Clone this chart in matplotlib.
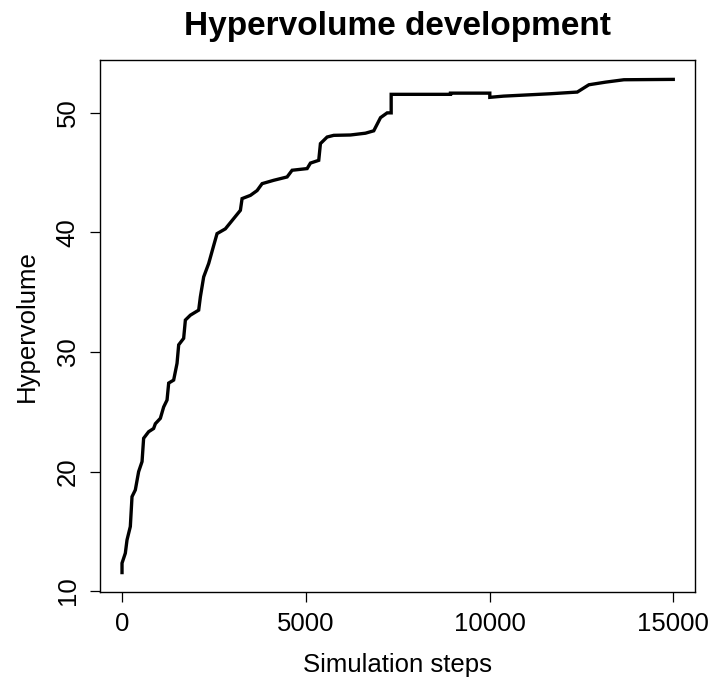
import matplotlib
matplotlib.use("Agg")
import matplotlib.pyplot as plt

plt.rcParams['font.family'] = ['Liberation Sans', 'DejaVu Sans']

# hypervolume of the best front after each simulation step
steps = [0, 0, 90, 136, 226, 272, 362, 452, 545, 588, 724, 860, 907, 1043,
         1133, 1225, 1270, 1405, 1497, 1542, 1677, 1724, 1860, 2086, 2132,
         2222, 2358, 2494, 2586, 2812, 3039, 3221, 3267, 3494, 3675, 3812,
         4127, 4492, 4628, 5037, 5127, 5353, 5399, 5581, 5761, 6216, 6624,
         6850, 7034, 7079, 7215, 7324, 7324, 8938, 8938, 10008, 10008,
         10382, 11661, 12388, 12704, 13158, 13657, 15000]
hypervolume = [11.55, 12.34, 13.17, 14.28, 15.4, 17.9, 18.46, 19.99, 20.83,
               22.78, 23.33, 23.6, 24.0, 24.45, 25.4, 25.98, 27.4, 27.65,
               29.05, 30.6, 31.14, 32.67, 33.08, 33.5, 34.61, 36.28, 37.4,
               38.9, 39.9, 40.3, 41.16, 41.85, 42.83, 43.1, 43.5, 44.08,
               44.36, 44.64, 45.2, 45.34, 45.8, 46.03, 47.43, 47.98, 48.12,
               48.15, 48.3, 48.5, 49.6, 49.7, 50.0, 50.0, 51.55, 51.55, 51.65,
               51.65, 51.3, 51.4, 51.6, 51.74, 52.35, 52.57, 52.77, 52.8]

xticks = [0, 5000, 10000, 15000]
yticks = [10, 20, 30, 40, 50]

fig = plt.figure(figsize=(7.09, 6.78), dpi=100)
ax = fig.add_axes([0.141, 0.1264, 0.8397, 0.7856])

ax.plot(steps, hypervolume, color='black', lw=2.4, solid_joinstyle='miter')

# R-style 4% padding around the data range
xr = max(steps) - min(steps)
yr = max(hypervolume) - min(hypervolume)
ax.set_xlim(min(steps) - 0.04 * xr, max(steps) + 0.04 * xr)
ax.set_ylim(min(hypervolume) - 0.04 * yr, max(hypervolume) + 0.04 * yr)

ax.set_xticks(xticks)
ax.set_yticks(yticks)
ax.set_xticklabels([str(t) for t in xticks], fontsize=18.5)
ax.set_yticklabels([str(t) for t in yticks], fontsize=18.5, rotation=90, va='center')
ax.tick_params(direction='out', length=7.5, width=0.9, pad=7)
for s in ax.spines.values():
    s.set_linewidth(1.0)

ax.set_xlabel("Simulation steps", fontsize=18.5, labelpad=12)
ax.set_ylabel("Hypervolume", fontsize=18.5, labelpad=12)
ax.set_title("Hypervolume development", fontsize=24, fontweight='bold', pad=18)

fig.savefig("out.png", dpi=100)
